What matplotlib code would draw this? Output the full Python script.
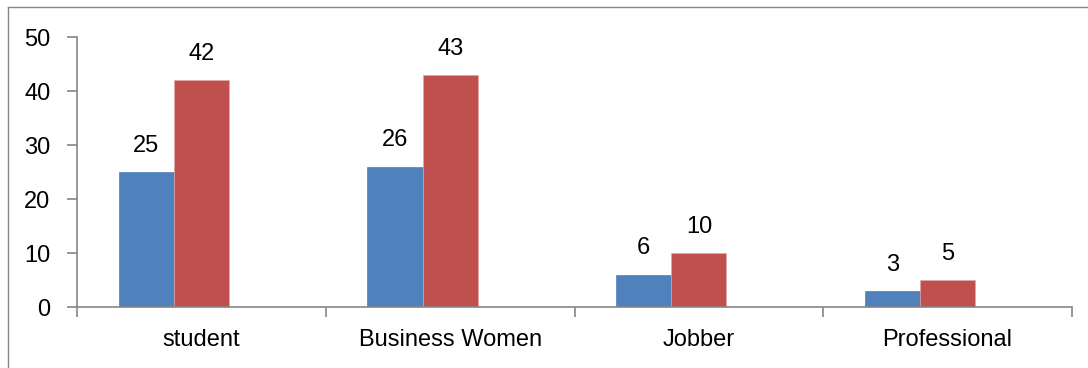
import matplotlib
matplotlib.use("Agg")
import matplotlib.pyplot as plt
from matplotlib.lines import Line2D
import numpy as np

categories = ["student", "Business Women", "Jobber", "Professional"]
series_a = [25, 26, 6, 3]
series_b = [42, 43, 10, 5]
y_ticks = [0, 10, 20, 30, 40, 50]

plt.rcParams['font.family'] = ['Liberation Sans', 'DejaVu Sans']

fig = plt.figure(figsize=(10.88, 3.68), dpi=100)
W, H = 1088, 368
ax = fig.add_axes([77 / W, 1 - 307 / H, (1072 - 77) / W, (307 - 37) / H])

x = np.arange(len(categories))
w = 0.222
ca, cb = "#4F81BD", "#C0504D"
FS = 17
ax.bar(x - w, series_a, width=w, color=ca, edgecolor=ca, linewidth=0.5)
ax.bar(x, series_b, width=w, color=cb, edgecolor="#E6A6A6", linewidth=0.5)

for xi, v in zip(x - w, series_a):
    ax.annotate(str(v), (xi, v), xytext=(0, 11), textcoords="offset points",
                ha="center", va="bottom", fontsize=FS)
for xi, v in zip(x, series_b):
    ax.annotate(str(v), (xi, v), xytext=(0, 11), textcoords="offset points",
                ha="center", va="bottom", fontsize=FS)

ax.set_xlim(-0.5, len(categories) - 0.5)
ax.set_ylim(0, 50)
ax.set_yticks(y_ticks)
ax.set_yticklabels([str(t) for t in y_ticks], fontsize=FS)
ax.set_xticks(x)
ax.set_xticklabels(categories, fontsize=FS)
ax.tick_params(axis="x", length=0, pad=16)
ax.set_xticks(np.arange(len(categories) + 1) - 0.5, minor=True)
ax.tick_params(axis="x", which="minor", length=7, color="#868686", width=1.2)
ax.tick_params(axis="y", length=7, color="#868686", width=1.2, pad=12)

for s in ["top", "right"]:
    ax.spines[s].set_visible(False)
for s in ["left", "bottom"]:
    ax.spines[s].set_color("#868686")
    ax.spines[s].set_linewidth(1.2)

fig.add_artist(Line2D([8 / W, 8 / W], [0, 1 - 7 / H], transform=fig.transFigure, color="#868686", lw=1))
fig.add_artist(Line2D([8 / W, 1], [1 - 7 / H, 1 - 7 / H], transform=fig.transFigure, color="#868686", lw=1))

fig.savefig("out.png", dpi=100)
